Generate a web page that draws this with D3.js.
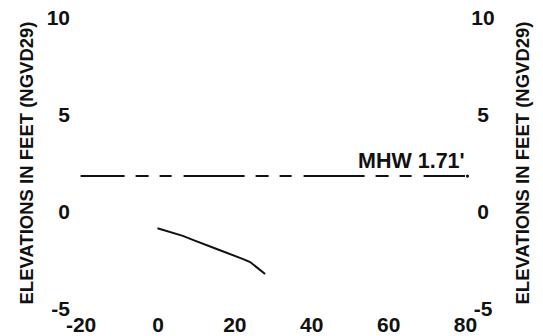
<!DOCTYPE html>
<html>
<head>
<meta charset="utf-8">
<script src="https://cdn.jsdelivr.net/npm/d3@7"></script>
<style>
  html, body { margin: 0; padding: 0; background: #fff; }
  svg { display: block; }
  text { font-family: "Liberation Sans", Arial, sans-serif; fill: #111; }
</style>
</head>
<body>
<svg id="chart" width="543" height="336"></svg>
<script>
// ---- data ----
const xTicks = [-20, 0, 20, 40, 60, 80];
const yTicks = [-5, 0, 5, 10];
const profileX = [0, 6.6, 9.2, 15.4, 22.3, 24.1, 28.0];
const profileY = [-0.89, -1.28, -1.49, -1.96, -2.48, -2.63, -3.25];
const mhwX = [-20, 80];
const mhwValue = 1.8;
const mhwLabel = "MHW 1.71'";
const yTitle = "ELEVATIONS IN FEET (NGVD29)";

// ---- layout ----
const svg = d3.select("#chart");
const x = d3.scaleLinear().domain([-20, 80]).range([80.6, 465]);
const y = d3.scaleLinear().domain([-5, 10]).range([308, 17]);

const fontSize = 21;
const fmt = d => String(d);

function styleLabels(g, dy) {
  g.select(".domain").remove();
  g.selectAll("text").attr("font-size", fontSize).attr("font-family", null)
    .attr("dy", dy).attr("font-weight", "bold").style("fill", "#111");
}

// left y labels
const gl = svg.append("g").attr("transform", "translate(70,0)")
  .call(d3.axisLeft(y).tickValues(yTicks).tickFormat(fmt).tickSize(0).tickPadding(0));
styleLabels(gl, "0.36em");

// right y labels (centred)
const gr = svg.append("g").attr("transform", "translate(483,0)")
  .call(d3.axisRight(y).tickValues(yTicks).tickFormat(fmt).tickSize(0).tickPadding(0));
styleLabels(gr, "0.36em");
gr.selectAll("text").attr("text-anchor", "middle");

// bottom x labels
const gb = svg.append("g").attr("transform", "translate(0,317)")
  .call(d3.axisBottom(x).tickValues(xTicks).tickFormat(fmt).tickSize(0).tickPadding(0));
styleLabels(gb, "0.71em");
gb.selectAll("text").attr("y", 0);

// axis titles
[33, 529].forEach(cx => {
  svg.append("text")
    .attr("transform", `translate(${cx},${(21 + 305) / 2}) rotate(-90)`)
    .attr("text-anchor", "middle")
    .attr("font-size", 18.5)
    .attr("font-weight", "bold")
    .text(yTitle);
});

// MHW line
const line = d3.line().x(d => x(d[0])).y(d => y(d[1]));
svg.append("path")
  .datum(mhwX.map(v => [v, mhwValue]))
  .attr("d", line)
  .attr("fill", "none")
  .attr("stroke", "#111")
  .attr("stroke-width", 2)
  .attr("stroke-dasharray", "61,11,13,11,12,12")
  .attr("stroke-dashoffset", 17);
svg.append("circle")
  .attr("cx", x(mhwX[1]) + 2.5).attr("cy", y(mhwValue))
  .attr("r", 1.6).attr("fill", "#111");

// MHW label
svg.append("text")
  .attr("x", 358).attr("y", y(mhwValue) - 8)
  .attr("font-size", 21.5)
  .attr("font-weight", "bold")
  .text(mhwLabel);

// profile
svg.append("path")
  .datum(profileX.map((v, i) => [v, profileY[i]]))
  .attr("d", line)
  .attr("fill", "none")
  .attr("stroke", "#111")
  .attr("stroke-width", 2);
</script>
</body>
</html>
